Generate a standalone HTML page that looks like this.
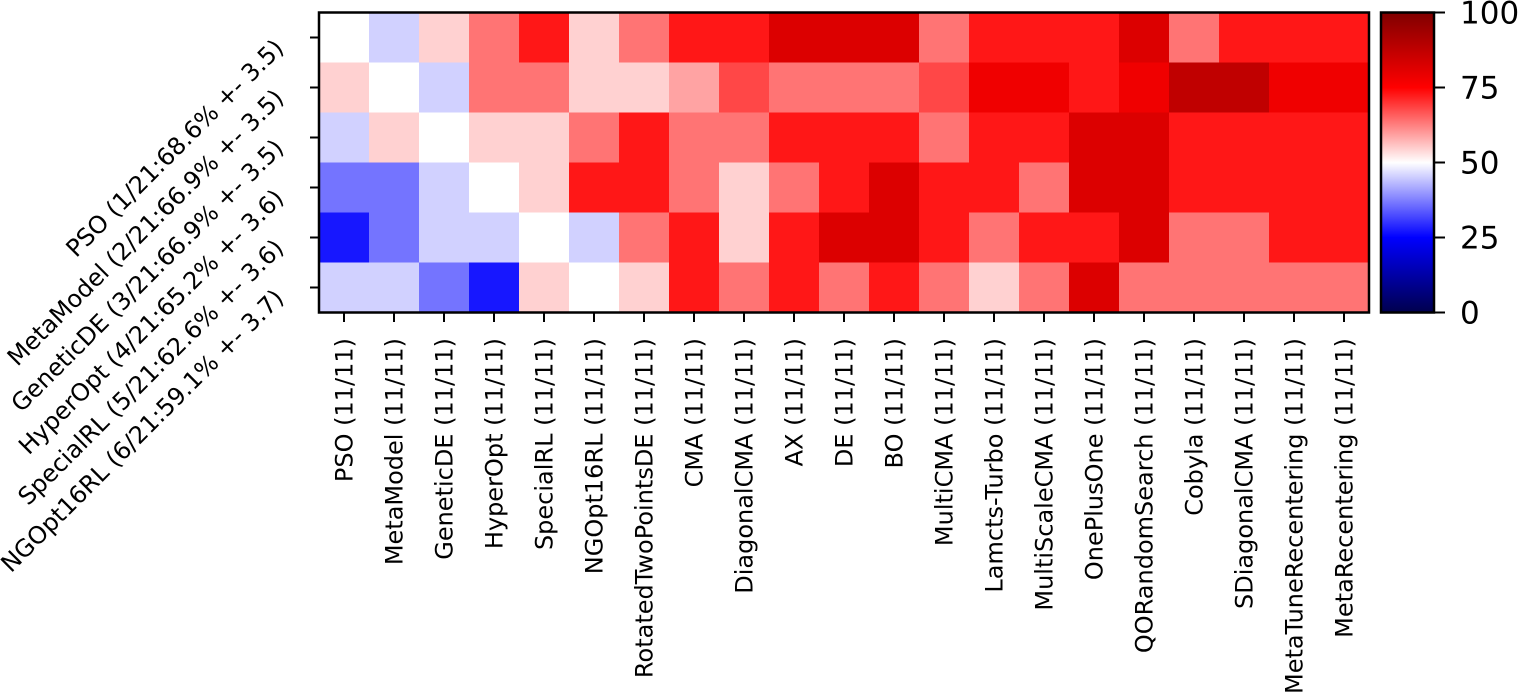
<!DOCTYPE html>
<html><head><meta charset="utf-8"><style>
html,body{margin:0;padding:0;background:#fff;}
svg{display:block;font-family:"DejaVu Sans","Liberation Sans",sans-serif;}
</style></head><body>
<svg id="chart" width="1522" height="696" viewBox="0 0 1522 696" xmlns="http://www.w3.org/2000/svg">
<defs>
<linearGradient id="seis" x1="0" y1="1" x2="0" y2="0">
<stop offset="0" stop-color="rgb(0,0,77)"/>
<stop offset="0.25" stop-color="rgb(0,0,255)"/>
<stop offset="0.5" stop-color="rgb(255,255,255)"/>
<stop offset="0.75" stop-color="rgb(255,0,0)"/>
<stop offset="1" stop-color="rgb(128,0,0)"/>
</linearGradient>
</defs>
<g id="cells"></g>
<g id="xticks"></g>
<g id="yticks"></g>
<rect x="319" y="12.5" width="1050" height="300" fill="none" stroke="#000" stroke-width="2.5"/>
<rect x="1381" y="12.5" width="53" height="300" fill="url(#seis)" stroke="#000" stroke-width="2.5"/>
<g id="cbticks"></g>
</svg>
<script>
const colLabels = ["PSO (11/11)","MetaModel (11/11)","GeneticDE (11/11)","HyperOpt (11/11)","SpecialRL (11/11)","NGOpt16RL (11/11)","RotatedTwoPointsDE (11/11)","CMA (11/11)","DiagonalCMA (11/11)","AX (11/11)","DE (11/11)","BO (11/11)","MultiCMA (11/11)","Lamcts-Turbo (11/11)","MultiScaleCMA (11/11)","OnePlusOne (11/11)","QORandomSearch (11/11)","Cobyla (11/11)","SDiagonalCMA (11/11)","MetaTuneRecentering (11/11)","MetaRecentering (11/11)"];
const rowLabels = ["PSO (1/21:68.6% +- 3.5)","MetaModel (2/21:66.9% +- 3.5)","GeneticDE (3/21:66.9% +- 3.5)","HyperOpt (4/21:65.2% +- 3.6)","SpecialRL (5/21:62.6% +- 3.6)","NGOpt16RL (6/21:59.1% +- 3.7)"];
const row0 = [50,45.5,54.5,63.6,72.7,54.5,63.6,72.7,72.7,81.8,81.8,81.8,63.6,72.7,72.7,72.7,81.8,63.6,72.7,72.7,72.7];
const row1 = [54.5,50,45.5,63.6,63.6,54.5,54.5,59,68,63.6,63.6,63.6,68,78,78,72.7,78,87.5,87.5,78,78];
const row2 = [45.5,54.5,50,54.5,54.5,63.6,72.7,63.6,63.6,72.7,72.7,72.7,63.6,72.7,72.7,81.8,81.8,72.7,72.7,72.7,72.7];
const row3 = [36.4,36.4,45.5,50,54.5,72.7,72.7,63.6,54.5,63.6,72.7,81.8,72.7,72.7,63.6,81.8,81.8,72.7,72.7,72.7,72.7];
const row4 = [27.3,36.4,45.5,45.5,50,45.5,63.6,72.7,54.5,72.7,81.8,81.8,72.7,63.6,72.7,72.7,81.8,63.6,63.6,72.7,72.7];
const row5 = [45.5,45.5,36.4,27.3,54.5,50,54.5,72.7,63.6,72.7,63.6,72.7,63.6,54.5,63.6,81.8,63.6,63.6,63.6,63.6,63.6];
const cbTicks = [0,25,50,75,100];

const rows = [row0,row1,row2,row3,row4,row5];
const NS = "http://www.w3.org/2000/svg";
const X0=319, Y0=12.5, CW=50, RH=50, CBY0=12.5, CBH=300;
const xPos = i => X0 + i*CW;
const yPos = j => Y0 + j*RH;
const cbY = v => CBY0 + CBH*(1 - v/100);
function seismic(v){
  const t=Math.max(0,Math.min(1,v/100));
  const st=[[0,0,0,77],[0.25,0,0,255],[0.5,255,255,255],[0.75,255,0,0],[1,128,0,0]];
  for(let k=0;k<4;k++){const a=st[k],b=st[k+1];if(t<=b[0]){const f=(t-a[0])/(b[0]-a[0]);
    return `rgb(${Math.round(a[1]+f*(b[1]-a[1]))},${Math.round(a[2]+f*(b[2]-a[2]))},${Math.round(a[3]+f*(b[3]-a[3]))})`;}}
  return "rgb(128,0,0)";
}
function mk(tag,attrs,parent){const e=document.createElementNS(NS,tag);for(const k in attrs)e.setAttribute(k,attrs[k]);parent.appendChild(e);return e;}
const cells=document.getElementById('cells');
rows.forEach((r,j)=>r.forEach((v,i)=>{
  const c=mk('rect',{x:xPos(i),y:yPos(j),width:CW+0.5,height:RH+0.5,fill:seismic(v)},cells);
  
  
}));
const xt=document.getElementById('xticks');
colLabels.forEach((lab,i)=>{
  const cx=xPos(i)+CW/2;
  const t=mk('line',{x1:cx,y1:313,x2:cx,y2:322,stroke:'#000','stroke-width':2},xt);
  
  
  const tx=mk('text',{x:0,y:0,'font-size':'24','text-anchor':'end',transform:`translate(${cx+8.5},338) rotate(-90)`},xt);
  tx.textContent=lab;
  
  
});
const yt=document.getElementById('yticks');
rowLabels.forEach((lab,j)=>{
  const cy=yPos(j)+RH/2;
  const t=mk('line',{x1:310,y1:cy,x2:319,y2:cy,stroke:'#000','stroke-width':2},yt);
  
  
  const tx=mk('text',{x:0,y:0,'font-size':'24','text-anchor':'end',transform:`translate(285,${cy+12}) rotate(-45)`},yt);
  tx.textContent=lab;
  
  
});
const cb=document.getElementById('cbticks');
cbTicks.forEach(v=>{
  const y=cbY(v);
  const t=mk('line',{x1:1434,y1:y,x2:1445,y2:y,stroke:'#000','stroke-width':2},cb);
  
  
  const tx=mk('text',{x:1460,y:y+11,'font-size':'31'},cb);
  tx.textContent=String(v);
  
  
});
</script>
</body></html>
